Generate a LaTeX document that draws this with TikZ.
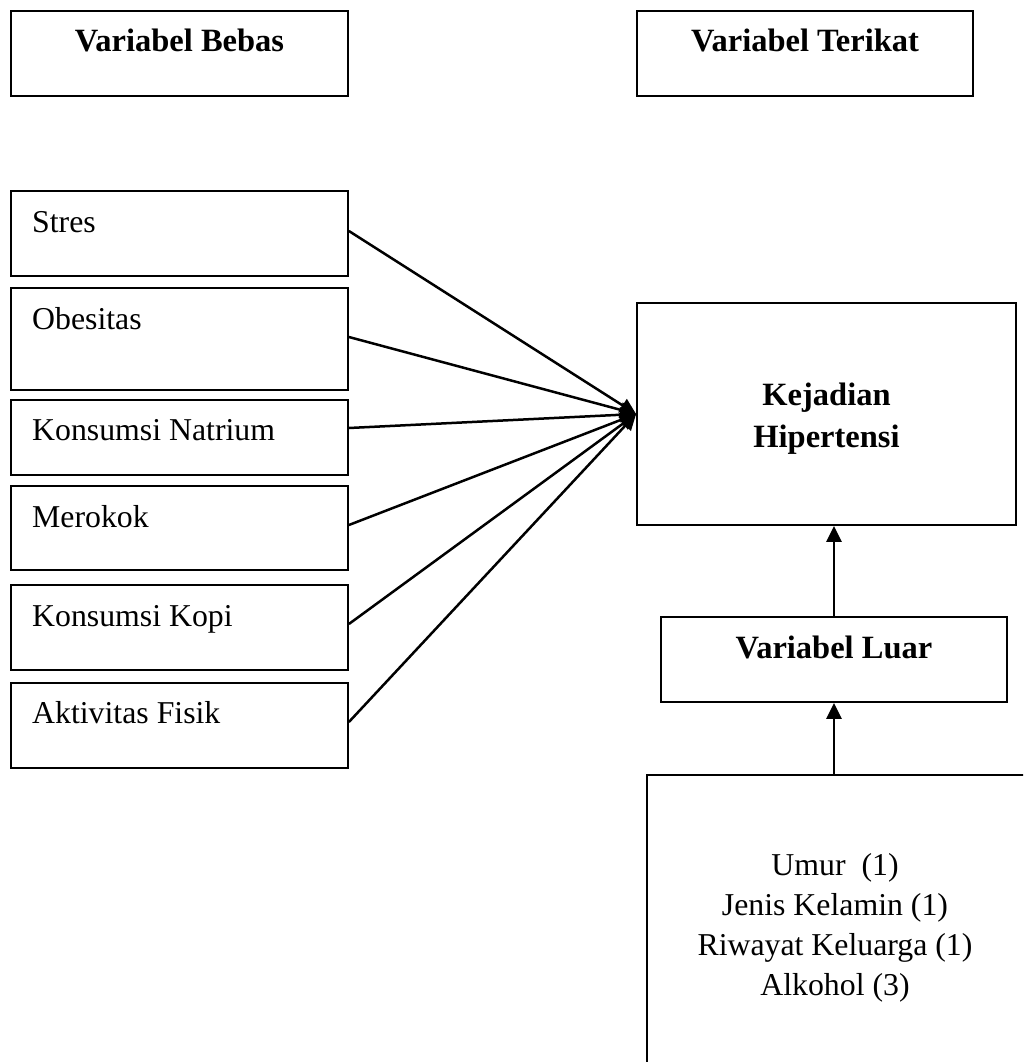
\documentclass[tikz,border=0pt]{standalone}
\usepackage{fontspec}
\setmainfont{Liberation Serif}
\usetikzlibrary{arrows.meta}
\begin{document}
\begin{tikzpicture}[x=1pt,y=-1pt,
  box/.style={draw, line width=1.8pt, inner sep=0pt, rectangle},
  txt/.style={inner sep=0pt, font=\fontsize{31.8}{40}\selectfont},
  btxt/.style={inner sep=0pt, align=center, font=\fontsize{32.5}{42}\selectfont\bfseries},
  conn/.style={line width=2.5pt, -{Triangle[length=16pt,width=15pt]}}]
\useasboundingbox (0,0) rectangle (1023,1062);
\clip (0,0) rectangle (1023,1062);
% header boxes
\node[box, minimum width=337pt, minimum height=85pt] (bebas) at (179.5,53.5) {};
\node[btxt, anchor=base] (tbebas) at (179.5,52) {Variabel Bebas};
\node[box, minimum width=336pt, minimum height=85pt] (terikat) at (805,53.5) {};
\node[btxt, anchor=base] (tterikat) at (805,52) {Variabel Terikat};
% independent variables
\node[box, minimum width=337pt, minimum height=85pt] (stres) at (179.5,233.5) {};
\node[txt, anchor=base west] (tstres) at (32,232) {Stres};
\node[box, minimum width=337pt, minimum height=102pt] (obes) at (179.5,339) {};
\node[txt, anchor=base west] (tobes) at (32,329) {Obesitas};
\node[box, minimum width=337pt, minimum height=75pt] (natr) at (179.5,437.5) {};
\node[txt, anchor=base west] (tnatr) at (32,440) {Konsumsi Natrium};
\node[box, minimum width=337pt, minimum height=84pt] (mero) at (179.5,528) {};
\node[txt, anchor=base west] (tmero) at (32,527) {Merokok};
\node[box, minimum width=337pt, minimum height=85pt] (kopi) at (179.5,627.5) {};
\node[txt, anchor=base west] (tkopi) at (32,626) {Konsumsi Kopi};
\node[box, minimum width=337pt, minimum height=85pt] (akti) at (179.5,725.5) {};
\node[txt, anchor=base west] (takti) at (32,723) {Aktivitas Fisik};
% dependent variable
\node[box, minimum width=379pt, minimum height=222pt] (kej) at (826.5,414) {};
\node[btxt] (tkej) at (826.5,419) {Kejadian\\Hipertensi};
% external variable
\node[box, minimum width=346pt, minimum height=85pt] (luar) at (834,659.5) {};
\node[btxt, anchor=base] (tluar) at (834,658) {Variabel Luar};
\node[box, minimum width=396pt, minimum height=307pt] (bot) at (845,928.5) {};
\node[txt, align=center, anchor=base] (tbot) at (835,995) {Umur\ \ (1)\\Jenis Kelamin (1)\\Riwayat Keluarga (1)\\Alkohol (3)};
% connectors
\draw[conn] ([yshift=2.5pt]stres.east) -- (kej.west);
\draw[conn] ([yshift=2pt]obes.east) -- (kej.west);
\draw[conn] ([yshift=9.5pt]natr.east) -- (kej.west);
\draw[conn] ([yshift=3pt]mero.east) -- (kej.west);
\draw[conn] ([yshift=3.5pt]kopi.east) -- (kej.west);
\draw[conn] ([yshift=3.5pt]akti.east) -- (kej.west);
\draw[conn] (luar.north) -- (luar.north |- kej.south);
\draw[conn] (luar.south |- bot.north) -- (luar.south);
\end{tikzpicture}
\end{document}
